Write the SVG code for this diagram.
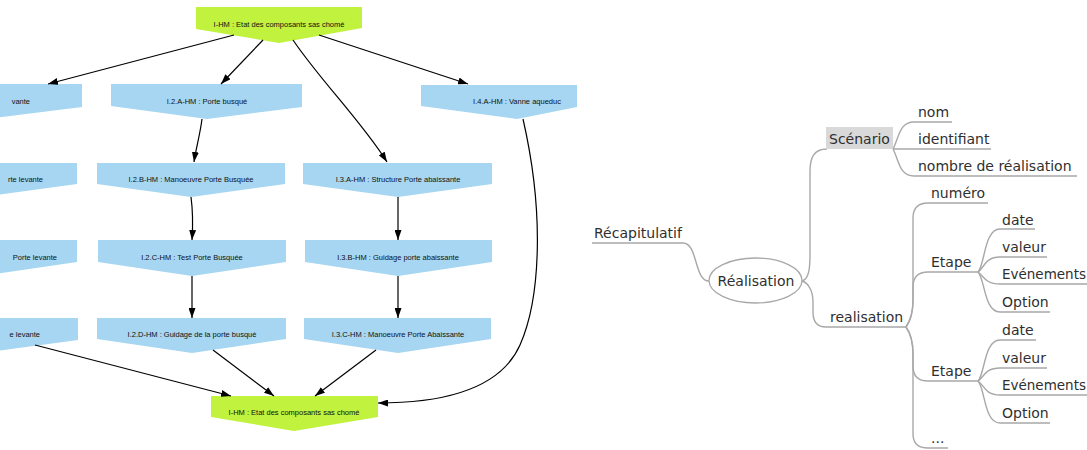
<svg xmlns="http://www.w3.org/2000/svg" width="1087" height="450" viewBox="0 0 1087 450">
  <defs>
    <marker id="arrow" viewBox="0 0 10 7" refX="10" refY="3.5" markerUnits="userSpaceOnUse" markerWidth="10" markerHeight="7" orient="auto">
      <path d="M0,0 L10,3.5 L0,7 z" fill="#000"/>
    </marker>
    <style>
      .blue { fill: #a6d6f1; }
      .green { fill: #c0f23e; }
      .lbl { font-family: "Liberation Sans", Arial, sans-serif; font-size: 7.5px; fill: #111; text-anchor: middle; }
      .lbl-end { font-family: "Liberation Sans", Arial, sans-serif; font-size: 7.5px; fill: #111; text-anchor: end; }
      .edge { fill: none; stroke: #000; stroke-width: 1.2; marker-end: url(#arrow); }
      .mm { fill: none; stroke: #a8a8a8; stroke-width: 1.4; }
      .mt { font-family: "DejaVu Sans", Verdana, sans-serif; font-size: 14px; fill: #2f2f2f; }
    </style>
  </defs>
  <rect width="1087" height="450" fill="#fff"/>

  <!-- component tree -->
  <g id="n-top">
    <polygon class="green" points="196,7 362,7 362,28 279,43 196,29"/>
    <text class="lbl" x="279" y="26.7">I-HM : Etat des composants sas chomé</text>
  </g>
  <g id="n-i1a">
    <polygon class="blue" points="-110,84 82,84 82,107 -14,119 -110,107"/>
    <text class="lbl-end" x="30" y="103.7">vante</text>
  </g>
  <g id="n-i2a">
    <polygon class="blue" points="111,84 302,84 302,107 207,119 111,106"/>
    <text class="lbl" x="207" y="103.7">I.2.A-HM : Porte busqué</text>
  </g>
  <g id="n-i4a">
    <polygon class="blue" points="421,85 577,85 577,107 517,119 421,106"/>
    <text class="lbl" x="517" y="103.7">I.4.A-HM : Vanne aqueduc</text>
  </g>
  <g id="n-i1b">
    <polygon class="blue" points="-115,163 77,163 77,184 -19,197 -115,184"/>
    <text class="lbl-end" x="43" y="181.7">rte levante</text>
  </g>
  <g id="n-i2b">
    <polygon class="blue" points="97,163 285,163 285,184 191,197 97,184"/>
    <text class="lbl" x="191" y="181.7">I.2.B-HM : Manoeuvre Porte Busquée</text>
  </g>
  <g id="n-i3a">
    <polygon class="blue" points="303,163 492,163 492,184 398,197 303,184"/>
    <text class="lbl" x="398" y="181.7">I.3.A-HM : Structure Porte abaissante</text>
  </g>
  <g id="n-i1c">
    <polygon class="blue" points="-115,240 77,240 77,262 -19,276 -115,262"/>
    <text class="lbl-end" x="57" y="259.7">Porte levante</text>
  </g>
  <g id="n-i2c">
    <polygon class="blue" points="98,240 286,240 286,262 192,276 98,262"/>
    <text class="lbl" x="192" y="259.7">I.2.C-HM : Test Porte Busquée</text>
  </g>
  <g id="n-i3b">
    <polygon class="blue" points="305,240 492,240 492,262 398,276 305,262"/>
    <text class="lbl" x="398" y="259.7">I.3.B-HM : Guidage porte abaissante</text>
  </g>
  <g id="n-i1d">
    <polygon class="blue" points="-114,318 78,318 78,340 -18,353 -114,340"/>
    <text class="lbl-end" x="40" y="336.7">e levante</text>
  </g>
  <g id="n-i2d">
    <polygon class="blue" points="97,318 286,318 286,339 192,353 97,339"/>
    <text class="lbl" x="192" y="336.7">I.2.D-HM : Guidage de la porte busqué</text>
  </g>
  <g id="n-i3c">
    <polygon class="blue" points="304,318 491,318 491,339 398,353 304,339"/>
    <text class="lbl" x="398" y="336.7">I.3.C-HM : Manoeuvre Porte Abaissante</text>
  </g>
  <g id="n-bottom">
    <polygon class="green" points="211,396 378,396 378,417 294,431 211,417"/>
    <text class="lbl" x="294" y="414.7">I-HM : Etat des composants sas chomé</text>
  </g>

  <g id="connectors">
    <path class="edge" d="M234,35 L48,84"/>
    <path class="edge" d="M263,40 L221,84"/>
    <path class="edge" d="M293,40 C320,80 362,122 387,162"/>
    <path class="edge" d="M319,35 L468,84"/>
    <path class="edge" d="M202,119 C200,135 196,148 194,162"/>
    <path class="edge" d="M191,197 C193,212 193,225 192,240"/>
    <path class="edge" d="M192,276 L192,318"/>
    <path class="edge" d="M398,197 L398,240"/>
    <path class="edge" d="M398,276 L398,318"/>
    <path class="edge" d="M523,119 C545,215 540,300 520,345 C500,390 440,403 378,403"/>
    <path class="edge" d="M35,345 L231,396"/>
    <path class="edge" d="M213,350 L274,396"/>
    <path class="edge" d="M376,350 L315,396"/>

    <!-- mind map branches -->
    <path class="mm" d="M592,243 H683 C698,243 694,281 709,281"/>
    <path class="mm" d="M802,281 C809,279 810,268 810,255 L810,172 C810,157 814,149 827,149"/>
    <path class="mm" d="M802,281 C809,283 813,292 813,302 L813,312 C813,322 817,327 826,327 H906"/>
    <path class="mm" d="M893,149 C899,138 899,122 914,122 H952"/>
    <path class="mm" d="M893,149 H991"/>
    <path class="mm" d="M893,149 C899,160 899,176 914,176 H1077"/>
    <path class="mm" d="M906,327 C911,320 913,312 913,300 L913,218 C913,208 918,203 928,203 H988"/>
    <path class="mm" d="M906,327 C911,320 913,312 913,300 L913,287 C913,277 918,272 928,272 H978"/>
    <path class="mm" d="M906,327 C911,334 913,342 913,354 L913,366 C913,376 918,381 928,381 H978"/>
    <path class="mm" d="M906,327 C911,334 913,342 913,354 L913,434 C913,444 918,448 928,448 H948"/>
    <path class="mm" d="M978,272 C985,265 984,229 1000,229 H1035"/>
    <path class="mm" d="M978,272 C984,268 985,257 1000,257 H1047"/>
    <path class="mm" d="M978,272 C984,276 985,284 1000,284 H1087"/>
    <path class="mm" d="M978,272 C985,279 984,312 1000,312 H1050"/>
    <path class="mm" d="M978,381 C985,374 984,340 1000,340 H1036"/>
    <path class="mm" d="M978,381 C984,377 985,368 1000,368 H1047"/>
    <path class="mm" d="M978,381 C984,385 985,395 1000,395 H1087"/>
    <path class="mm" d="M978,381 C985,388 984,423 1000,423 H1050"/>
  </g>

  <!-- data structure mind map -->
  <g id="m-recap"><text class="mt" x="594" y="238">Récapitulatif</text></g>
  <g id="m-realisation-root">
    <ellipse cx="755.5" cy="280.5" rx="46.5" ry="22.5" fill="#fff" stroke="#a8a8a8" stroke-width="1.3"/>
    <text class="mt" x="756" y="286" text-anchor="middle">Réalisation</text>
  </g>
  <g id="m-scenario">
    <rect x="826" y="127" width="67" height="22" fill="#d9d9d9"/>
    <text class="mt" x="829" y="144">Scénario</text>
  </g>
  <g id="m-nom"><text class="mt" x="918" y="117">nom</text></g>
  <g id="m-identifiant"><text class="mt" x="918" y="144">identifiant</text></g>
  <g id="m-nombre"><text class="mt" x="918" y="171">nombre de réalisation</text></g>
  <g id="m-realisation"><text class="mt" x="830" y="322">realisation</text></g>
  <g id="m-numero"><text class="mt" x="931" y="198">numéro</text></g>
  <g id="m-etape1"><text class="mt" x="931" y="267">Etape</text></g>
  <g id="m-date1"><text class="mt" x="1002" y="225">date</text></g>
  <g id="m-valeur1"><text class="mt" x="1002" y="252">valeur</text></g>
  <g id="m-evenements1"><text class="mt" x="1002" y="279" textLength="84" lengthAdjust="spacingAndGlyphs">Evénements</text></g>
  <g id="m-option1"><text class="mt" x="1002" y="307">Option</text></g>
  <g id="m-etape2"><text class="mt" x="931" y="376">Etape</text></g>
  <g id="m-date2"><text class="mt" x="1002" y="335">date</text></g>
  <g id="m-valeur2"><text class="mt" x="1002" y="363">valeur</text></g>
  <g id="m-evenements2"><text class="mt" x="1002" y="390" textLength="84" lengthAdjust="spacingAndGlyphs">Evénements</text></g>
  <g id="m-option2"><text class="mt" x="1002" y="418">Option</text></g>
  <g id="m-more"><text class="mt" x="931" y="443">...</text></g>
</svg>
